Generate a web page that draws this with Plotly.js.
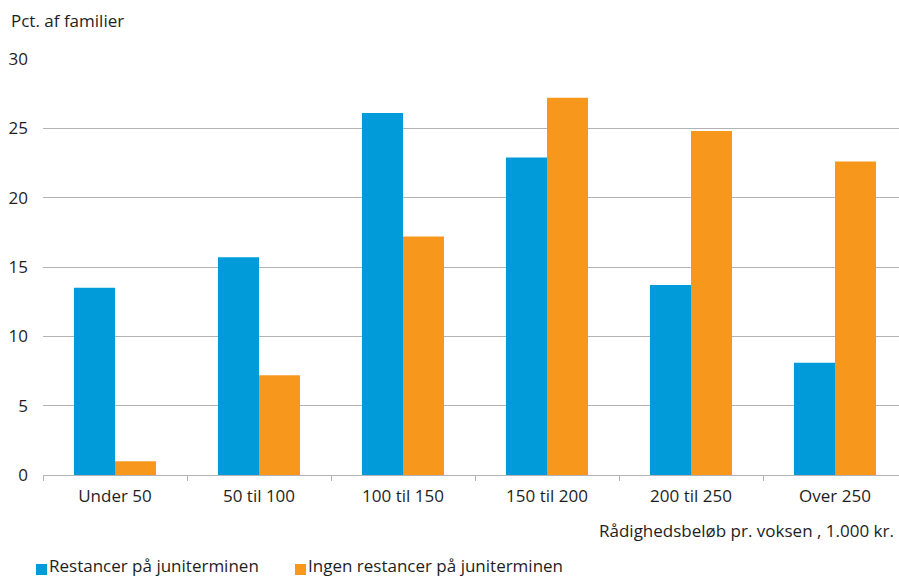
<!DOCTYPE html>
<html>
<head>
<meta charset="utf-8">
<script src="https://cdn.plot.ly/plotly-3.0.1.min.js"></script>
<style>
  html, body { margin: 0; padding: 0; background: #ffffff; overflow: hidden; }
  #chart { width: 899px; height: 579px; }
</style>
</head>
<body>
<div id="chart"></div>
<script>
// Income brackets (disposable amount per adult, 1,000 DKK)
const categories = ["Under 50", "50 til 100", "100 til 150", "150 til 200", "200 til 250", "Over 250"];

// Share of families (%) in each bracket
const arrearsName = "Restancer på juniterminen";
const arrearsValues = [13.5, 15.7, 26.1, 22.9, 13.7, 8.1];

const noArrearsName = "Ingen restancer på juniterminen";
const noArrearsValues = [1.0, 7.2, 17.2, 27.2, 24.8, 22.6];

const yTicks = [0, 5, 10, 15, 20, 25, 30];
const yTitle = "Pct. af familier";
const xTitle = "Rådighedsbeløb pr. voksen , 1.000 kr.";

const BLUE = "#009bd8";
const ORANGE = "#f7981d";
const FONT = "Open Sans, Noto Sans, sans-serif";
const FS = 17;
const TEXT = "#1e1e1e";
const GRID = "#b3b3b3";

const traces = [
  { type: "bar", name: arrearsName, x: categories, y: arrearsValues,
    marker: { color: BLUE }, hoverinfo: "x+y+name" },
  { type: "bar", name: noArrearsName, x: categories, y: noArrearsValues,
    marker: { color: ORANGE }, hoverinfo: "x+y+name" }
];

const W = 899, H = 579;
const marginL = 43, marginT = 59, marginB = 104, marginR = 0;
const plotW = W - marginL - marginR;
const plotH = H - marginT - marginB;
const catWidth = 144;

// pixel position (from top-left) -> paper coordinates
const px = x => (x - marginL) / plotW;
const py = y => (H - marginB - y) / plotH;

// legend: swatches + labels below the axis title
const legendItems = [
  { name: arrearsName, color: BLUE, x: 36 },
  { name: noArrearsName, color: ORANGE, x: 295 }
];
const shapes = legendItems.map(it => ({
  type: "rect", xref: "paper", yref: "paper",
  x0: px(it.x), x1: px(it.x + 11),
  y0: py(575), y1: py(564),
  fillcolor: it.color, line: { width: 0 }
}));
const annotations = [
  { text: yTitle, xref: "paper", yref: "paper", x: px(9), y: py(20),
    xanchor: "left", yanchor: "middle", showarrow: false,
    font: { family: FONT, size: FS, color: TEXT } },
  { text: xTitle, xref: "paper", yref: "paper", x: px(896), y: py(530),
    xanchor: "right", yanchor: "middle", showarrow: false,
    font: { family: FONT, size: FS, color: TEXT } }
].concat(legendItems.map(it => ({
  text: it.name, xref: "paper", yref: "paper",
  x: px(it.x + 11), y: py(578.5),
  xanchor: "left", yanchor: "bottom", showarrow: false,
  font: { family: FONT, size: FS, color: TEXT }
})));

const layout = {
  width: W, height: H,
  margin: { l: marginL, r: marginR, t: marginT, b: marginB, pad: 0 },
  paper_bgcolor: "#ffffff", plot_bgcolor: "#ffffff",
  barmode: "group", bargap: 0.43, bargroupgap: 0,
  showlegend: false,
  font: { family: FONT, size: FS, color: TEXT },
  xaxis: {
    type: "category",
    range: [-0.5, -0.5 + plotW / catWidth],
    showgrid: false, zeroline: false,
    showline: true, linecolor: GRID, linewidth: 1,
    ticks: "outside", tickson: "boundaries", ticklen: 5, tickcolor: GRID, tickwidth: 1,
    ticklabelstandoff: 6,
    tickfont: { family: FONT, size: FS, color: TEXT },
    fixedrange: true
  },
  yaxis: {
    range: [0, 30], tickvals: yTicks,
    showgrid: true, gridcolor: GRID, gridwidth: 1,
    zeroline: false, showline: false,
    ticks: "", ticklabelstandoff: 14,
    tickfont: { family: FONT, size: FS, color: TEXT },
    fixedrange: true
  },
  shapes: shapes,
  annotations: annotations
};

Plotly.newPlot("chart", traces, layout, { displayModeBar: false, staticPlot: true });
</script>
</body>
</html>
